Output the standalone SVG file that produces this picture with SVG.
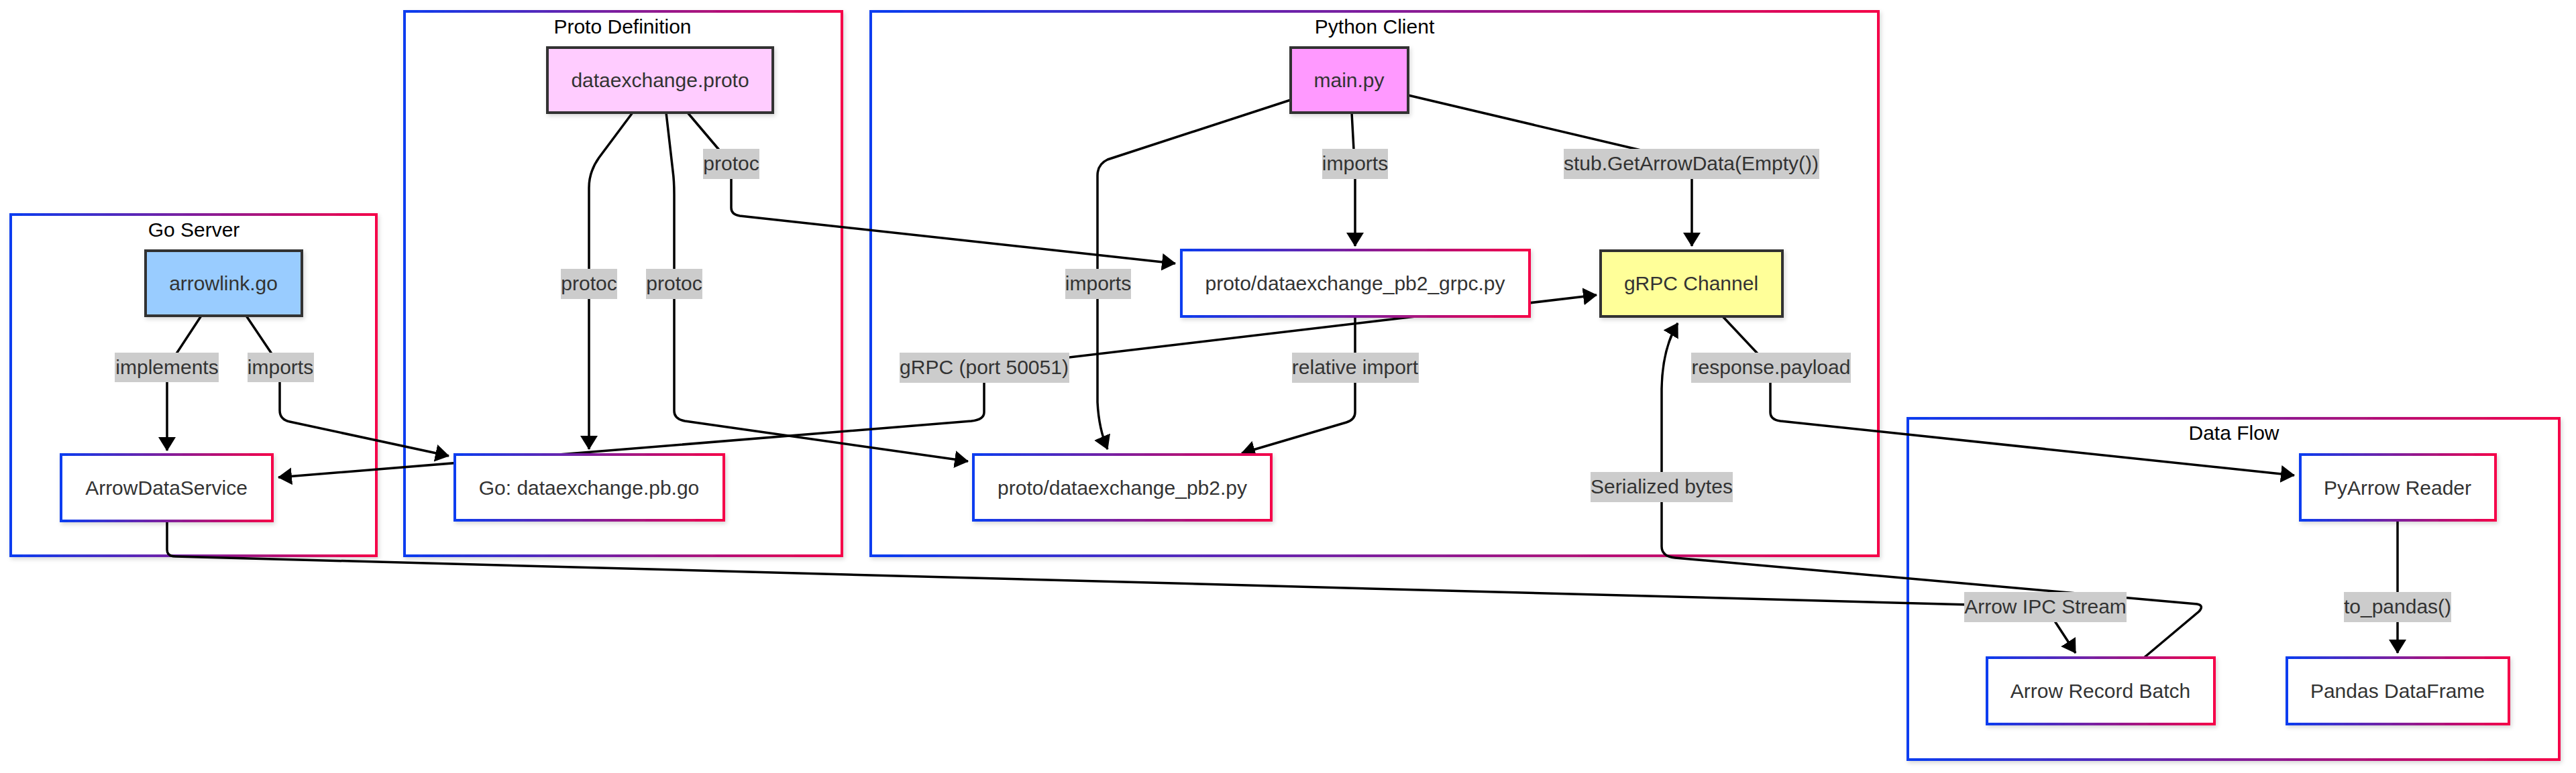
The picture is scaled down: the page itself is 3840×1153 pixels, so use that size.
<svg xmlns="http://www.w3.org/2000/svg" width="3840" height="1153" viewBox="0 0 3840 1153">
<defs>
<linearGradient id="grad" x1="0" y1="0" x2="1" y2="0">
<stop offset="0" stop-color="#0a3cf0"/>
<stop offset="1" stop-color="#f50048"/>
</linearGradient>
<filter id="shadow" x="-10%" y="-10%" width="130%" height="130%">
<feDropShadow dx="2" dy="3" stdDeviation="3" flood-color="#000" flood-opacity="0.16"/>
</filter>
<marker id="arrow" viewBox="0 0 21 26" refX="20" refY="13" markerWidth="21" markerHeight="26" markerUnits="userSpaceOnUse" orient="auto">
<path d="M0 0 L21 13 L0 26 Z" fill="#000"/>
</marker>
<style>
.cluster{fill:#fff;stroke:url(#grad);stroke-width:4;filter:url(#shadow)}
.ctitle{font-family:"Liberation Sans",Arial,sans-serif;font-size:30px;fill:#000;text-anchor:middle}
.gnode{fill:#fff;stroke:url(#grad);stroke-width:4;filter:url(#shadow)}
.cnode{stroke:#333;stroke-width:4;filter:url(#shadow)}
.ntext{font-family:"Liberation Sans",Arial,sans-serif;font-size:30px;fill:#333;text-anchor:middle}
.edge{fill:none;stroke:#000;stroke-width:3.5;marker-end:url(#arrow)}
.lbg{fill:#cccccc}
.ltext{font-family:"Liberation Sans",Arial,sans-serif;font-size:30px;fill:#333;text-anchor:middle}
</style>
</defs>
<rect width="3840" height="1153" fill="#fff"/>
<g id="clusters">
<g id="cluster-go"><rect class="cluster" x="16" y="320" width="545" height="509"/><text class="ctitle" x="289" y="353">Go Server</text></g>
<g id="cluster-proto"><rect class="cluster" x="603" y="17" width="652" height="812"/><text class="ctitle" x="928" y="50">Proto Definition</text></g>
<g id="cluster-python"><rect class="cluster" x="1298" y="17" width="1502" height="812"/><text class="ctitle" x="2049" y="50">Python Client</text></g>
<g id="cluster-dataflow"><rect class="cluster" x="2844" y="624" width="971" height="509"/><text class="ctitle" x="3330" y="656">Data Flow</text></g>
</g>
<g id="connectors">
<path class="edge" d="M300 471 L258 535 Q249 549 249 565 L249 672"/>
<path class="edge" d="M367 471 L410 535 Q417 546 417 560 L417 612 Q417 626 432 629 L669 680"/>
<path class="edge" d="M943 168 L893 235 Q878 256 878 280 L878 670"/>
<path class="edge" d="M993 168 L1003 255 Q1005 270 1005 290 L1005 613 Q1005 625 1021 628 L1443 688"/>
<path class="edge" d="M1025 168 L1080 233 Q1090 245 1090 260 L1090 310 Q1090 320 1103 322 L1752 393"/>
<path class="edge" d="M1924 149 L1651 238 Q1636 245 1636 262 L1636 600 Q1638 640 1651 670"/>
<path class="edge" d="M2015 168 L2020 260 L2020 367"/>
<path class="edge" d="M2099 142 L2480 232 Q2522 242 2522 260 L2522 367"/>
<path class="edge" d="M1467 548 L2380 440"/>
<path class="edge" d="M1467 548 L1467 615 Q1467 626 1448 628 L415 712"/>
<path class="edge" d="M2020 472 L2020 615 Q2020 626 2007 630 L1851 676"/>
<path class="edge" d="M2568 472 L2630 538 Q2639 548 2639 560 L2639 615 Q2639 626 2654 628 L3420 709"/>
<path class="edge" d="M249 777 L249 820 Q249 830 262 830 L3049 905 L3094 974"/>
<path class="edge" d="M3196 981 L3278 912 Q3286 903 3275 901 L2497 832 Q2477 830 2477 815 L2477 580 Q2478 520 2501 482"/>
<path class="edge" d="M3574 776 L3574 974"/>
</g>
<g id="edge-labels">
<g><rect class="lbg" x="171" y="526" width="155" height="44"/><text class="ltext" x="249" y="558">implements</text></g>
<g><rect class="lbg" x="369" y="526" width="99" height="44"/><text class="ltext" x="418" y="558">imports</text></g>
<g><rect class="lbg" x="836" y="401" width="84" height="45"/><text class="ltext" x="878" y="433">protoc</text></g>
<g><rect class="lbg" x="963" y="401" width="84" height="45"/><text class="ltext" x="1005" y="433">protoc</text></g>
<g><rect class="lbg" x="1048" y="222" width="84" height="45"/><text class="ltext" x="1090" y="254">protoc</text></g>
<g><rect class="lbg" x="1588" y="401" width="98" height="45"/><text class="ltext" x="1637" y="433">imports</text></g>
<g><rect class="lbg" x="1971" y="222" width="98" height="45"/><text class="ltext" x="2020" y="254">imports</text></g>
<g><rect class="lbg" x="2331" y="222" width="381" height="45"/><text class="ltext" x="2521" y="254">stub.GetArrowData(Empty())</text></g>
<g><rect class="lbg" x="1341" y="526" width="253" height="45"/><text class="ltext" x="1467" y="558">gRPC (port 50051)</text></g>
<g><rect class="lbg" x="1926" y="526" width="189" height="45"/><text class="ltext" x="2020" y="558">relative import</text></g>
<g><rect class="lbg" x="2521" y="526" width="238" height="45"/><text class="ltext" x="2640" y="558">response.payload</text></g>
<g><rect class="lbg" x="2371" y="704" width="212" height="45"/><text class="ltext" x="2477" y="736">Serialized bytes</text></g>
<g><rect class="lbg" x="2928" y="883" width="242" height="45"/><text class="ltext" x="3049" y="915">Arrow IPC Stream</text></g>
<g><rect class="lbg" x="3494" y="883" width="160" height="45"/><text class="ltext" x="3574" y="915">to_pandas()</text></g>
</g>
<g id="node-arrowlink"><rect class="cnode" x="217" y="374" width="233" height="97" fill="#99ccff"/><text class="ntext" x="333" y="433">arrowlink.go</text></g>
<g id="node-ads"><rect class="gnode" x="91" y="678" width="315" height="99"/><text class="ntext" x="248" y="738">ArrowDataService</text></g>
<g id="node-proto"><rect class="cnode" x="816" y="71" width="336" height="97" fill="#ffccff"/><text class="ntext" x="984" y="130">dataexchange.proto</text></g>
<g id="node-gopb"><rect class="gnode" x="678" y="678" width="401" height="98"/><text class="ntext" x="878" y="738">Go: dataexchange.pb.go</text></g>
<g id="node-main"><rect class="cnode" x="1924" y="71" width="175" height="97" fill="#ff99ff"/><text class="ntext" x="2011" y="130">main.py</text></g>
<g id="node-grpcpy"><rect class="gnode" x="1761" y="373" width="519" height="99"/><text class="ntext" x="2020" y="433">proto/dataexchange_pb2_grpc.py</text></g>
<g id="node-channel"><rect class="cnode" x="2386" y="374" width="271" height="98" fill="#ffff99"/><text class="ntext" x="2521" y="433">gRPC Channel</text></g>
<g id="node-pb2"><rect class="gnode" x="1451" y="678" width="444" height="98"/><text class="ntext" x="1673" y="738">proto/dataexchange_pb2.py</text></g>
<g id="node-pyarrow"><rect class="gnode" x="3429" y="678" width="291" height="98"/><text class="ntext" x="3574" y="738">PyArrow Reader</text></g>
<g id="node-arb"><rect class="gnode" x="2962" y="981" width="339" height="99"/><text class="ntext" x="3131" y="1041">Arrow Record Batch</text></g>
<g id="node-pandas"><rect class="gnode" x="3409" y="981" width="331" height="99"/><text class="ntext" x="3574" y="1041">Pandas DataFrame</text></g>
</svg>
